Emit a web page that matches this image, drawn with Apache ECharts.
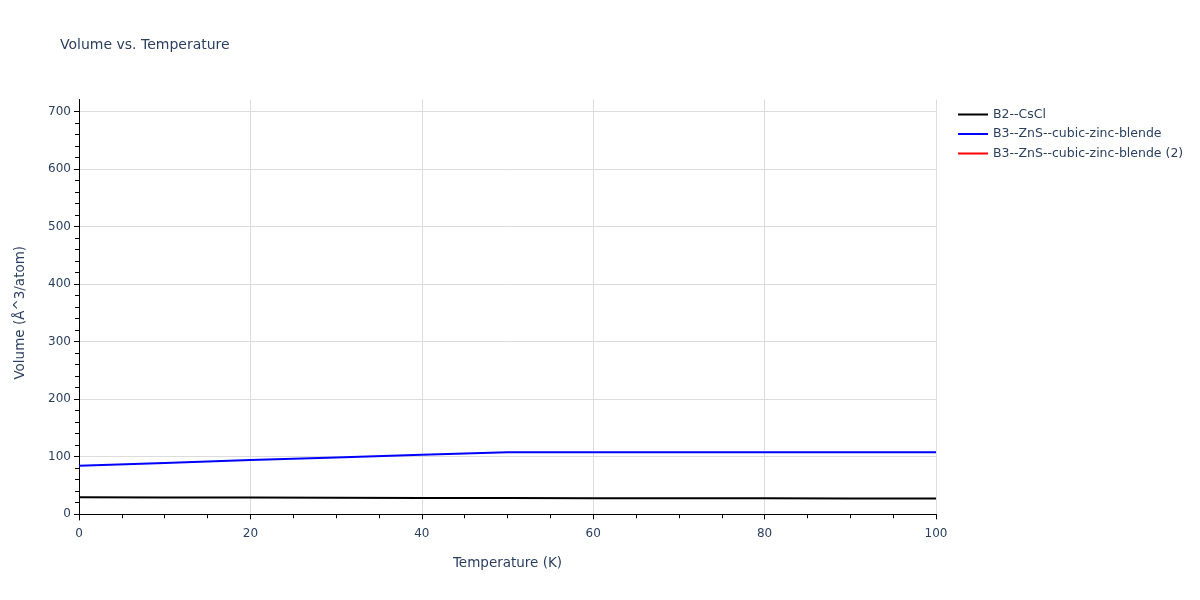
<!DOCTYPE html>
<html>
<head>
<meta charset="utf-8">
<script src="https://cdn.jsdelivr.net/npm/echarts@6/dist/echarts.min.js"></script>
<style>
  html, body { margin: 0; padding: 0; background: #fff; }
  #chart { width: 1200px; height: 600px; }
</style>
</head>
<body>
<div id="chart"></div>
<script>
// data
const temperature = [0, 10, 20, 30, 40, 50, 60, 70, 80, 90, 100];
const b2Volume = [29.2, 28.9, 28.6, 28.3, 28.0, 27.7, 27.5, 27.3, 27.2, 27.1, 27.0];
const b3Volume = [83.9, 88.7, 93.8, 98.3, 103.0, 107.4, 107.6, 107.6, 107.6, 107.6, 107.6];
const b3Volume2 = [];
const seriesNames = ['B2--CsCl', 'B3--ZnS--cubic-zinc-blende', 'B3--ZnS--cubic-zinc-blende (2)'];
const seriesColors = ['#000000', '#0000ff', '#ff0000'];

const textColor = '#2a3f5f';
const font = 'DejaVu Sans';

const toPairs = (xs, ys) => ys.map((y, i) => [xs[i], y]);

let chart = echarts.init(document.getElementById('chart'));
let option = {
    backgroundColor: '#fff',
    animation: false,
    title: {
        text: 'Volume vs. Temperature',
        left: 60, top: 38, padding: 0,
        textStyle: { fontFamily: font, fontSize: 14, fontWeight: 'normal', color: textColor }
    },
    legend: {
        orient: 'vertical',
        left: 958, top: 108, padding: 0,
        itemWidth: 30, itemHeight: 2, itemGap: 6.5,
        icon: 'rect',
        textStyle: { fontFamily: font, fontSize: 12.5, color: textColor },
        data: seriesNames
    },
    // grid 0: full plot range (-10..721) for axis lines and x gridlines
    // grid 1: 0..700 part, so ticks line up with plotly's range
    grid: [
        { left: 79, right: 264, top: 99.5, bottom: 80 },
        { left: 79, right: 264, top: 111.5, bottom: 86 }
    ],
    xAxis: [
        {
            gridIndex: 0, type: 'value', min: 0, max: 100, interval: 20,
            name: 'Temperature (K)', nameLocation: 'middle', nameGap: 36,
            nameTextStyle: { fontFamily: font, fontSize: 13.5, color: textColor },
            axisLine: { show: true, lineStyle: { color: '#000', width: 1 } },
            axisTick: { show: true, inside: false, length: 5, lineStyle: { color: '#000' } },
            minorTick: { show: true, splitNumber: 4, length: 4, lineStyle: { color: '#000' } },
            axisLabel: { fontFamily: font, fontSize: 12, color: textColor, margin: 8 },
            splitLine: { show: true, lineStyle: { color: '#dcdcdc', width: 1 } }
        },
        {
            gridIndex: 1, type: 'value', min: 0, max: 100, show: false
        }
    ],
    yAxis: [
        {
            gridIndex: 0, type: 'value', min: -10, max: 721,
            axisLine: { show: true, lineStyle: { color: '#000', width: 1 } },
            axisTick: { show: false }, axisLabel: { show: false }, splitLine: { show: false }
        },
        {
            gridIndex: 1, type: 'value', min: 0, max: 700, interval: 100,
            name: 'Volume (Å^3/atom)', nameLocation: 'middle', nameGap: 52,
            nameTextStyle: { fontFamily: font, fontSize: 13.5, color: textColor },
            axisLine: { show: false },
            axisTick: { show: true, inside: false, length: 5, lineStyle: { color: '#000' } },
            minorTick: { show: true, splitNumber: 5, length: 4, lineStyle: { color: '#000' } },
            axisLabel: { fontFamily: font, fontSize: 12, color: textColor, margin: 8 },
            splitLine: { show: true, lineStyle: { color: '#dcdcdc', width: 1 } }
        }
    ],
    series: [
        {
            name: seriesNames[0], type: 'line', xAxisIndex: 1, yAxisIndex: 1,
            data: toPairs(temperature, b2Volume), showSymbol: false,
            color: seriesColors[0], lineStyle: { width: 2 }
        },
        {
            name: seriesNames[1], type: 'line', xAxisIndex: 1, yAxisIndex: 1,
            data: toPairs(temperature, b3Volume), showSymbol: false,
            color: seriesColors[1], lineStyle: { width: 2 }
        },
        {
            name: seriesNames[2], type: 'line', xAxisIndex: 1, yAxisIndex: 1,
            data: toPairs(temperature, b3Volume2), showSymbol: false,
            color: seriesColors[2], lineStyle: { width: 2 }
        }
    ]
};
chart.setOption(option);
</script>
</body>
</html>
